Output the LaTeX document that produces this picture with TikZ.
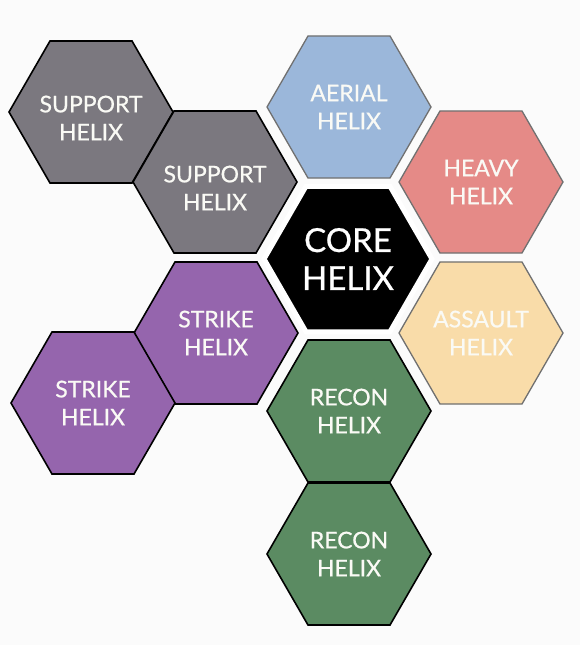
\documentclass[tikz,border=0pt]{standalone}
\usepackage{fontspec}
\setmainfont{Lato}
\newfontfamily\hexfont{Lato}[FakeBold=0.7]
\usetikzlibrary{shapes.geometric}
\definecolor{bgc}{HTML}{FBFBFB}
\definecolor{supc}{HTML}{7B787F}
\definecolor{aerc}{HTML}{9BB7DA}
\definecolor{heac}{HTML}{E58A87}
\definecolor{assc}{HTML}{F9DCA9}
\definecolor{strc}{HTML}{9565AD}
\definecolor{recc}{HTML}{5B8B62}
\definecolor{greyline}{HTML}{707070}
\definecolor{txtc}{HTML}{FAFAF5}
\tikzset{
  hexbox/.style={regular polygon, regular polygon sides=6, minimum size=164pt,
    inner sep=0pt, outer sep=0pt, line width=1.6pt, align=center,
    text=txtc, font=\hexfont\fontsize{23}{28}\selectfont},
  darkhex/.style={hexbox, draw=black},
  lighthex/.style={hexbox, draw=greyline, line width=1.3pt},
  corehex/.style={hexbox, minimum size=168pt, fill=black, draw=white, line width=5pt,
    font=\hexfont\fontsize{33}{38}\selectfont, text=white},
  hexlabel/.style={align=center, inner sep=0pt, text=txtc,
    font=\hexfont\fontsize{23}{28}\selectfont},
}
\begin{document}
\begin{tikzpicture}[x=1pt,y=-1pt]
\fill[bgc] (0,0) rectangle (580,645);
\useasboundingbox (0,0) rectangle (580,645);
\node[darkhex, fill=supc] (sup1) at (91,112) {};
\node[hexlabel] (sup1t) at ([yshift=-6pt]sup1.center) {SUPPORT\\HELIX};
\node[darkhex, fill=supc] (sup2) at (215,182) {};
\node[hexlabel] (sup2t) at ([yshift=-6pt]sup2.center) {SUPPORT\\HELIX};
\node[lighthex, fill=aerc] (aer) at (349,107) {AERIAL\\HELIX};
\node[lighthex, fill=heac] (hea) at (481,182) {HEAVY\\HELIX};
\node[lighthex, fill=assc] (ass) at (481,333) {ASSAULT\\HELIX};
\node[darkhex, fill=strc] (str1) at (216,333) {STRIKE\\HELIX};
\node[darkhex, fill=strc] (str2) at (93,403) {STRIKE\\HELIX};
\node[darkhex, fill=recc] (rec1) at (349,411) {RECON\\HELIX};
\node[darkhex, fill=recc] (rec2) at (349,554) {RECON\\HELIX};
\node[corehex] (core) at (348,259) {CORE\\HELIX};
\end{tikzpicture}
\end{document}
